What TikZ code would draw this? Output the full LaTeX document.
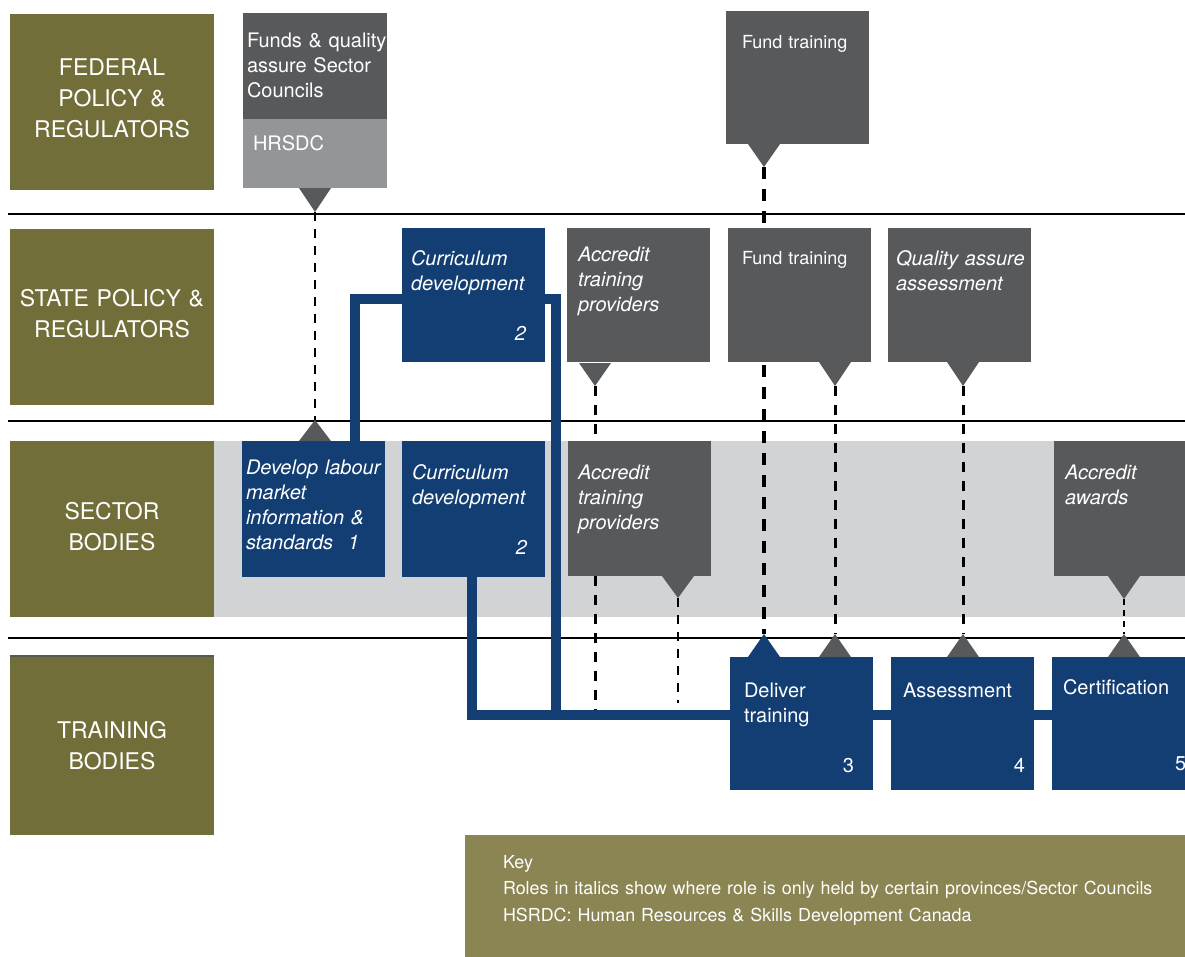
\documentclass[tikz,border=0pt]{standalone}
\usepackage{fontspec}
\setmainfont{TeX Gyre Heros}
\usetikzlibrary{calc}

\definecolor{lane}{HTML}{716E39}
\definecolor{keybg}{HTML}{8A8553}
\definecolor{role}{HTML}{58595B}
\definecolor{agency}{HTML}{939598}
\definecolor{band}{HTML}{D1D3D4}
\definecolor{navy}{HTML}{123E73}

\pgfdeclarelayer{bg}
\pgfsetlayers{bg,main}

% triangular pointer: name, x, base y, tip y, colour
\newcommand\flagtri[5]{%
  \fill[#5] ({#2-16},#3) -- ({#2+16},#3) -- (#2,#4) -- cycle;
  \coordinate (#1) at (#2,#4);}

\tikzset{
  every node/.style={inner sep=0pt, outer sep=0pt},
  lanebox/.style={fill=lane, minimum width=204pt, minimum height=176pt},
  lanetext/.style={text=white, anchor=base, align=center, text width=204pt,
    font=\fontsize{23}{31}\selectfont},
  rolebox/.style={fill=role, minimum width=143pt, minimum height=134pt},
  stagebox/.style={fill=navy, minimum width=143pt, minimum height=134pt},
  roletext/.style={text=white, anchor=base west, align=left, text width=170pt,
    font=\fontsize{20}{25}\selectfont},
  ittext/.style={roletext, font=\fontsize{20}{25}\selectfont\itshape},
  smalltext/.style={roletext, font=\fontsize{18}{23}\selectfont},
  numtext/.style={text=white, anchor=base east, font=\fontsize{20}{25}\selectfont},
  link/.style={black, line width=#1},
  heavydash/.style={link=3.5pt, dash pattern=on 12pt off 10pt},
  middash/.style={link=3pt, dash pattern=on 10pt off 9pt},
  lightdash/.style={link=2.5pt, dash pattern=on 9pt off 8pt},
  finedash/.style={link=2.5pt, dash pattern=on 6pt off 5pt},
  flow/.style={navy, line width=10pt, line join=miter},
}

\begin{document}
\begin{tikzpicture}[x=1pt, y=-1pt]
\useasboundingbox (0,0) rectangle (1185,956);

\begin{pgfonlayer}{bg}
  % sector band and row rules
  \fill[band] (214,441) rectangle (1185,617);
  \foreach \ry in {214,421,638} \draw[line width=2.5pt] (8,\ry) -- (1185,\ry);
\end{pgfonlayer}

% ---- row labels
\node[lanebox] (fed) at (112,102) {};
\node[lanetext] (fed-t) at (112,75) {FEDERAL\\POLICY \&\\REGULATORS};
\node[lanebox] (state) at (112,317) {};
\node[lanetext] (state-t) at (112,306) {STATE POLICY \&\\REGULATORS};
\node[lanebox] (sector) at (112,529) {};
\node[lanetext] (sector-t) at (112,519) {SECTOR\\BODIES};
\node[lanebox, minimum height=178pt] (train) at (112,746) {};
\fill[role] (train.north west) rectangle ([yshift=2.5pt]train.north east);
\node[lanetext] (train-t) at (112,738) {TRAINING\\BODIES};

% ---- federal row
\node[rolebox, minimum width=144pt, minimum height=106pt] (fedqa) at (315,66) {};
\node[fill=agency, minimum width=144pt, minimum height=69pt] (hrsdc) at (315,153.5) {};
\node[roletext] (fedqa-t) at (247,47) {Funds \& quality\\assure Sector\\Councils};
\node[roletext] (hrsdc-t) at (253,150) {HRSDC};
\node[rolebox, minimum height=133pt] (fedfund) at (797.5,77.5) {};
\node[smalltext] (fedfund-t) at (742,48) {Fund training};

% ---- state row
\node[stagebox] (stcur) at (473,295) {};
\node[ittext] (stcur-t) at (411,265) {Curriculum\\development};
\node[numtext, font=\fontsize{20}{25}\selectfont\itshape] (stcur-n) at (526,340) {2};
\node[rolebox] (stacc) at (638.5,295) {};
\node[ittext] (stacc-t) at (578,261) {Accredit\\training\\providers};
\node[rolebox] (stfund) at (799.5,295) {};
\node[smalltext] (stfund-t) at (742,264) {Fund training};
\node[rolebox] (stqa) at (959.5,295) {};
\node[ittext] (stqa-t) at (896,265) {Quality assure\\assessment};

% ---- sector row
\node[stagebox, minimum height=136pt] (dev) at (313.5,509) {};
\node[ittext] (dev-t) at (246,474) {Develop labour\\market\\information \&\\standards\hspace{0.75em}1};
\node[stagebox, minimum height=136pt] (secur) at (473.5,509) {};
\node[ittext] (secur-t) at (412,479) {Curriculum\\development};
\node[numtext, font=\fontsize{20}{25}\selectfont\itshape] (secur-n) at (527,554) {2};
\node[rolebox, minimum height=135pt] (seacc) at (639.5,508.5) {};
\node[ittext] (seacc-t) at (578,479) {Accredit\\training\\providers};
\node[rolebox, minimum height=135pt] (seaw) at (1125.5,508.5) {};
\node[ittext] (seaw-t) at (1065,479) {Accredit\\awards};

% ---- training row
\node[stagebox, minimum height=133pt] (deliver) at (801.5,723.5) {};
\node[roletext] (deliver-t) at (744,697) {Deliver\\training};
\node[numtext] (deliver-n) at (854,772) {3};
\node[stagebox, minimum height=133pt] (assess) at (962.5,723.5) {};
\node[roletext] (assess-t) at (903,697) {Assessment};
\node[numtext] (assess-n) at (1025,772) {4};
\node[stagebox, minimum height=133pt] (cert) at (1123.5,723.5) {};
\node[roletext] (cert-t) at (1063,694) {Certification};
\node[roletext] (cert-n) at (1175,770) {5};

% ---- pointers
\flagtri{hrsdc-p}{315}{188}{212}{role}
\flagtri{fedfund-p}{764}{144}{167}{role}
\flagtri{stacc-p}{595}{363}{386}{role}
\flagtri{stfund-p}{835}{362}{386}{role}
\flagtri{stqa-p}{963}{362}{386}{role}
\flagtri{seacc-p}{678}{576}{598}{role}
\flagtri{seaw-p}{1124}{576}{599}{role}
\flagtri{dev-in}{315}{441}{420}{role}
\flagtri{deliver-in}{764}{657}{634}{navy}
\flagtri{deliver-in2}{835}{657}{634}{role}
\flagtri{assess-in}{963}{657}{634}{role}
\flagtri{cert-in}{1124}{657}{634}{role}

% ---- key
\node[fill=keybg, minimum width=720pt, minimum height=125pt] (key) at (825,897.5) {};
\node[roletext, text width=700pt, font=\fontsize{17.9}{26.5}\selectfont] (key-t) at (503,868)
  {Key\\Roles in italics show where role is only held by certain provinces/Sector Councils\\HSRDC: Human Resources \& Skills Development Canada};

% ---- connectors behind the boxes
\coordinate (busR) at (556,299);
\coordinate (busJ) at (556,715);
\coordinate (seacc-end) at (595,715);
\coordinate (seacc-p-end) at (678,703);
\begin{pgfonlayer}{bg}
  \draw[lightdash] (hrsdc-p) -- (dev-in);
  \draw[heavydash] (fedfund-p) -- (deliver-in);
  \draw[middash] (stacc-p) -- (seacc-end);
  \draw[lightdash] (seacc-p) -- (seacc-p-end);
  \draw[middash] (stfund-p) -- (deliver-in2);
  \draw[middash] (stqa-p) -- (assess-in);
  \draw[finedash] (seaw-p) -- (cert-in);
  \draw[flow] ([xshift=41.5pt]dev.north) |- (busR) -- (busJ);
  \draw[flow] ([xshift=-1.5pt]secur.south) |- (cert.west |- busJ);
\end{pgfonlayer}
\end{tikzpicture}
\end{document}
